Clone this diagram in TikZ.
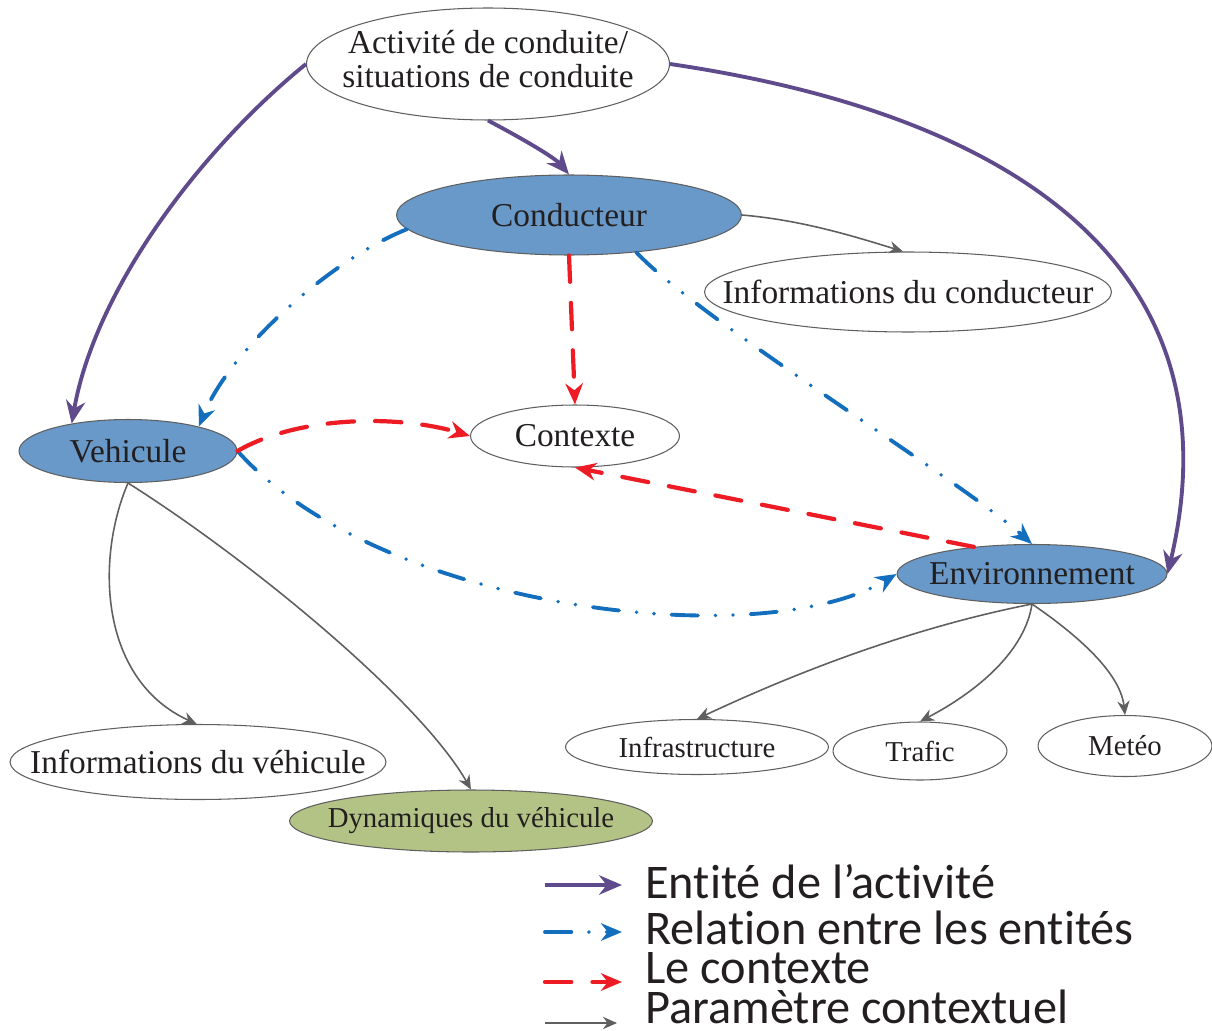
\documentclass[tikz,border=0pt]{standalone}
\usepackage{fontspec}
\setmainfont{Liberation Serif}
\newfontfamily\legfont[Ligatures=NoCommon]{Carlito}
\definecolor{actpurple}{RGB}{95,75,140}
\definecolor{relblue}{RGB}{20,110,190}
\definecolor{ctxred}{RGB}{237,28,36}
\definecolor{pargray}{RGB}{95,95,95}
\definecolor{entfill}{RGB}{104,153,200}
\definecolor{dynfill}{RGB}{179,195,133}
\definecolor{txtdark}{RGB}{35,31,32}
\usetikzlibrary{arrows.meta,positioning,shapes.geometric}
\newcommand{\ctr}[1]{\makebox[0pt]{#1}}

\begin{document}
\begin{tikzpicture}[x=0.02cm, y=-0.02cm,
  ell/.style={ellipse, draw=pargray, line width=0.6pt, inner sep=0pt, text=txtdark, font=\fontsize{19}{19.5}\selectfont},
  entity/.style={ell, fill=entfill},
  small/.style={font=\fontsize{16.4}{18}\selectfont},
  activite/.style={-{Stealth[length=13pt,width=11pt]}, line width=2.2pt, actpurple},
  relation/.style={-{Stealth[length=12pt,width=10pt]}, line width=2.2pt, relblue, line cap=round, dash pattern=on 15pt off 10pt on 0pt off 10pt on 0pt off 10pt},
  contexte/.style={-{Stealth[length=12pt,width=10pt]}, line width=2.4pt, ctxred, line cap=round, dash pattern=on 15pt off 12pt},
  param/.style={-{Stealth[length=8pt,width=7pt]}, line width=0.9pt, pargray},
  legtext/.style={anchor=base west, inner sep=0pt, text=txtdark, font=\legfont\fontsize{27.5}{29}\selectfont}]
  \useasboundingbox (0,0) rectangle (1212,1030);

  % entites
  \node[ell, minimum width=7.26cm, minimum height=2.24cm] (act) at (488,64) {\ctr{\begin{tabular}{@{}c@{}}Activité de conduite/\\situations de conduite\end{tabular}}};
  \node[entity, minimum width=6.9cm, minimum height=1.6cm] (cond) at (569,215) {\ctr{Conducteur}};
  \node[ell, minimum width=8.14cm, minimum height=1.6cm] (infoc) at (908,292) {\ctr{Informations du conducteur}};
  \node[entity, minimum width=4.36cm, minimum height=1.26cm] (veh) at (128,451) {\ctr{Vehicule}};
  \node[ell, minimum width=4.18cm, minimum height=1.24cm] (ctx) at (575,436) {\ctr{Contexte}};
  \node[entity, minimum width=5.4cm, minimum height=1.18cm] (env) at (1032,574) {\ctr{Environnement}};

  % parametres
  \node[ell, small, minimum width=5.26cm, minimum height=1.1cm] (infra) at (697,747) {\ctr{Infrastructure}};
  \node[ell, small, minimum width=3.48cm, minimum height=1.16cm] (trafic) at (920,751) {\ctr{Trafic}};
  \node[ell, small, minimum width=3.48cm, minimum height=1.22cm] (meteo) at (1125,746) {\ctr{Metéo}};
  \node[ell, minimum width=7.52cm, minimum height=1.5cm] (infov) at (198,762) {\ctr{Informations du véhicule}};
  \node[ell, small, fill=dynfill, minimum width=7.26cm, minimum height=1.24cm] (dyn) at (471,821) {\ctr{Dynamiques du véhicule}};

  % entite de l'activite
  \draw[activite] (act.west) .. controls (200,150) and (95,290) .. (veh.154);
  \draw[activite] (act.south) .. controls (525,140) and (555,158) .. (cond.north);
  \draw[activite] (act.east) .. controls (1050,120) and (1235,290) .. (env.east);

  % relations
  \draw[relation] (cond.185) .. controls (330,260) and (230,350) .. (veh.19);
  \draw[relation] (cond.331) .. controls (700,320) and (960,480) .. (env.north);
  \draw[relation] (veh.east) .. controls (380,610) and (760,655) .. (env.west);

  % contexte
  \draw[contexte] (cond.south) -- (ctx.north);
  \draw[contexte] (veh.east) .. controls (300,415) and (400,415) .. (ctx.west);
  \draw[contexte] (env.155) -- (ctx.south);

  % parametres contextuels
  \draw[param] (cond.east) .. controls (800,220) and (850,235) .. (infoc.97);
  \draw[param] (veh.south) .. controls (95,560) and (100,680) .. (infov.92);
  \draw[param] (veh.south) .. controls (250,560) and (420,700) .. (dyn.north);
  \draw[param] (env.south) .. controls (900,630) and (780,680) .. (infra.north);
  \draw[param] (env.south) .. controls (1025,650) and (980,690) .. (trafic.north);
  \draw[param] (env.south) .. controls (1070,630) and (1120,670) .. (meteo.north);

  % legende
  \coordinate (l1s) at (545,885); \coordinate (l1e) at (622,885);
  \coordinate (l2s) at (545,932); \coordinate (l2e) at (622,932);
  \coordinate (l3s) at (545,982); \coordinate (l3e) at (622,982);
  \coordinate (l4s) at (545,1023); \coordinate (l4e) at (617,1023);
  \draw[activite] (l1s) -- (l1e);
  \draw[relation] (l2s) -- (l2e);
  \draw[contexte] (l3s) -- (l3e);
  \draw[param] (l4s) -- (l4e);
  \node[legtext] (lg1) at (645,898) {Entité de l’activité};
  \node[legtext] (lg2) at (645,944) {Relation entre les entités};
  \node[legtext] (lg3) at (645,983) {Le contexte};
  \node[legtext] (lg4) at (645,1023) {Paramètre contextuel};
\end{tikzpicture}
\end{document}
